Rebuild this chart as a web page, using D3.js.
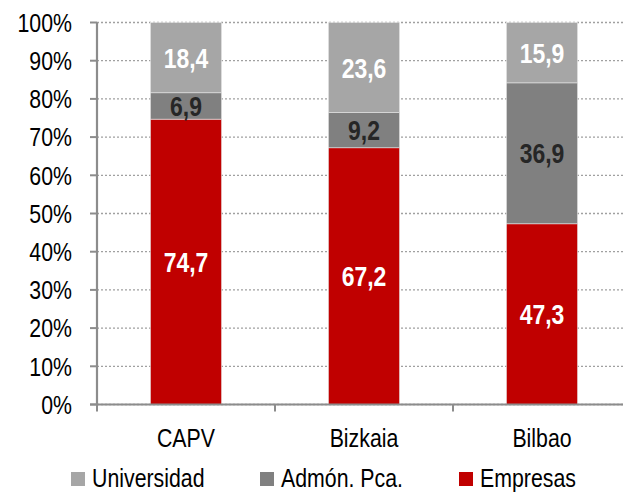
<!doctype html>
<html>
<head>
<meta charset="UTF-8" />
<title></title>
<script src="https://d3js.org/d3.v7.min.js"></script>
<style>
  body { margin: 0; background: #fff; }
  text { font-family: "Liberation Sans", Arial, sans-serif; }
</style>
</head>
<body>
<div id="chart"></div>
<script>
// data
const categories = ["CAPV", "Bizkaia", "Bilbao"];
const seriesNames = ["Empresas", "Admón. Pca.", "Universidad"];
const empresas = [74.7, 67.2, 47.3];
const admon = [6.9, 9.2, 36.9];
const universidad = [18.4, 23.6, 15.9];
const yTicks = [0, 10, 20, 30, 40, 50, 60, 70, 80, 90, 100];

const colors = ["#c00000", "#808080", "#a6a6a6"];
const labelColors = ["#fff", "#262626", "#fff"];

const width = 623, height = 494;
const marginLeft = 97, marginRight = -8, marginTop = 22.5, marginBottom = 89.5;
const narrow = 0.82; // squeeze text like Arial Narrow

const rows = categories.map((c, i) => ({
  cat: c, "Empresas": empresas[i], "Admón. Pca.": admon[i], "Universidad": universidad[i]
}));
const stacked = d3.stack().keys(seriesNames)(rows);

const svg = d3.select("#chart").append("svg")
    .attr("width", width)
    .attr("height", height);

const x = d3.scaleBand()
    .domain(categories)
    .range([marginLeft, width - marginRight])
    .paddingInner(0.6)
    .paddingOuter(0.3);

// same domain, no padding, for tick marks at band boundaries
const xb = d3.scaleBand().domain(categories).range([marginLeft, width - marginRight]);

const y = d3.scaleLinear()
    .domain([0, 100])
    .range([height - marginBottom, marginTop]);

function place(sel, fx, fy) {
  sel.attr("transform", (d, i) => `translate(${fx(d, i)},${fy(d, i)}) scale(${narrow},1)`);
}

// gridlines
svg.append("g")
  .selectAll("line")
  .data(yTicks)
  .join("line")
    .attr("x1", marginLeft)
    .attr("x2", width)
    .attr("y1", d => y(d))
    .attr("y2", d => y(d))
    .attr("stroke", "#a0a0a0")
    .attr("stroke-width", 1.3)
    .attr("stroke-dasharray", "2,2");

// bars
const layer = svg.append("g")
  .selectAll("g")
  .data(stacked)
  .join("g")
    .attr("fill", (d, i) => colors[i]);

layer.selectAll("rect")
  .data(d => d)
  .join("rect")
    .attr("x", d => x(d.data.cat))
    .attr("width", x.bandwidth())
    .attr("y", d => y(Math.min(d[1], 100)))
    .attr("height", d => y(d[0]) - y(Math.min(d[1], 100)))
    .attr("stroke", "#e8e8e8")
    .attr("stroke-width", 0.6);

// value labels
stacked.forEach((s, i) => {
  svg.append("g")
    .selectAll("text")
    .data(s)
    .join("text")
      .call(place, d => x(d.data.cat) + x.bandwidth() / 2,
                   d => (y(d[0]) + y(Math.min(d[1], 100))) / 2)
      .attr("dy", "0.36em")
      .attr("text-anchor", "middle")
      .attr("fill", labelColors[i])
      .attr("font-size", 28)
      .attr("font-weight", "bold")
      .text(d => String(d.data[s.key]).replace(".", ","));
});

// y axis
const yAxis = svg.append("g");
yAxis.append("line")
    .attr("x1", marginLeft).attr("x2", marginLeft)
    .attr("y1", y(100)).attr("y2", y(0))
    .attr("stroke", "#8c8c8c")
    .attr("stroke-width", 2.2);
yAxis.selectAll(".ytick")
  .data(yTicks)
  .join("line")
    .attr("x1", marginLeft - 7).attr("x2", marginLeft)
    .attr("y1", d => y(d)).attr("y2", d => y(d))
    .attr("stroke", "#8c8c8c")
    .attr("stroke-width", 2);
yAxis.selectAll("text")
  .data(yTicks)
  .join("text")
    .call(place, () => 72, d => y(d))
    .attr("dy", "0.36em")
    .attr("text-anchor", "end")
    .attr("font-size", 26)
    .attr("fill", "#000")
    .text(d => d + "%");

// x axis
const xAxisG = svg.append("g")
    .attr("transform", `translate(0,${y(0)})`);
xAxisG.append("line")
    .attr("x1", marginLeft - 7)
    .attr("x2", width)
    .attr("stroke", "#8c8c8c")
    .attr("stroke-width", 2);
xAxisG.selectAll(".xtick")
  .data(categories)
  .join("line")
    .attr("x1", d => xb(d))
    .attr("x2", d => xb(d))
    .attr("y1", 0)
    .attr("y2", 7)
    .attr("stroke", "#8c8c8c")
    .attr("stroke-width", 2);
xAxisG.selectAll("text")
  .data(categories)
  .join("text")
    .call(place, d => x(d) + x.bandwidth() / 2, () => 33)
    .attr("dy", "0.36em")
    .attr("text-anchor", "middle")
    .attr("font-size", 26)
    .attr("fill", "#000")
    .text(d => d);

// legend
const legendItems = [
  { name: "Universidad", color: colors[2], x: 71 },
  { name: "Admón. Pca.", color: colors[1], x: 260 },
  { name: "Empresas", color: colors[0], x: 459 }
];
const legend = svg.append("g").attr("transform", "translate(0,478)");
legend.selectAll("rect")
  .data(legendItems)
  .join("rect")
    .attr("x", d => d.x)
    .attr("y", -6)
    .attr("width", 14)
    .attr("height", 14)
    .attr("fill", d => d.color);
legend.selectAll("text")
  .data(legendItems)
  .join("text")
    .call(place, d => d.x + 21, () => 0)
    .attr("dy", "0.36em")
    .attr("font-size", 26)
    .attr("fill", "#000")
    .text(d => d.name);
</script>
</body>
</html>
